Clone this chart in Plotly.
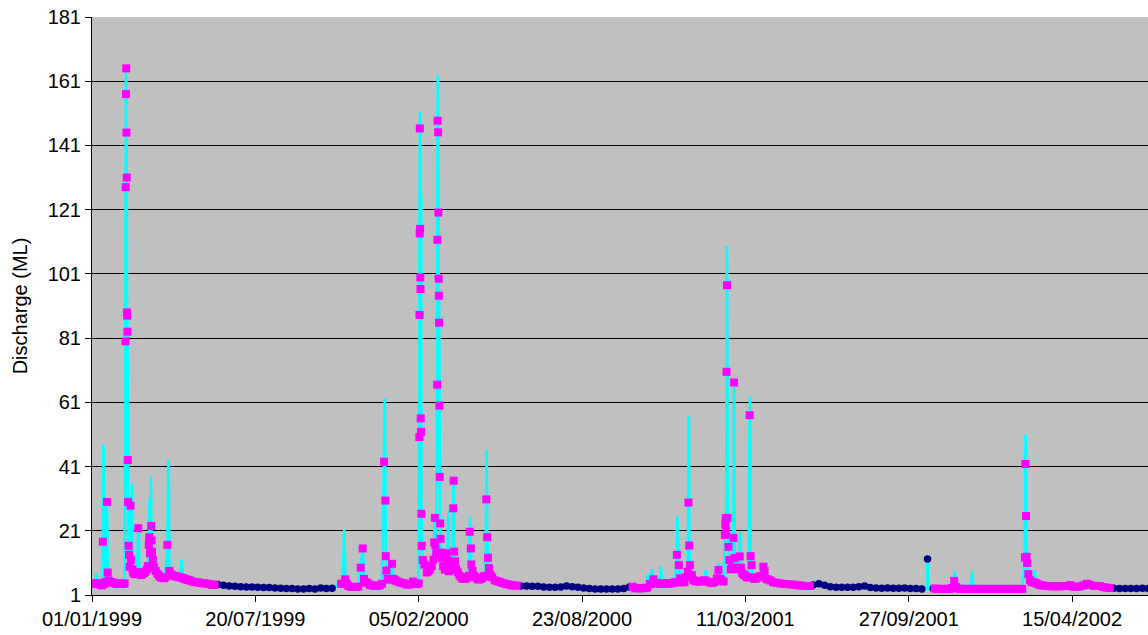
import pandas as pd
import plotly.graph_objects as go

START = pd.Timestamp("1999-01-01")

# ---- data: (days since 01/01/1999, discharge ML) ----
# magenta samples (event periods)
WET_1999 = [(0,4.6),(2,4.5),(4,4.7),(6,4.4),(8,4.6),(10,4.3),(12,4.0),(13.3,17.6),(15,4.5),(16.5,5),(18.3,30),(19.2,8),
    (20.5,5.5),(22,5.0),(24,5.0),(26,4.8),(28,4.7),(30,4.5),(32,4.5),(34,4.7),(36,4.5),(38,4.5),(40,4.6),
    (41.0,80),(41.3,128),(41.6,157),(41.9,165),(42.2,145),(42.5,131),(42.8,89),(43.1,88),(43.4,83),(43.8,43),
    (44.2,30),(44.8,16.3),(45.4,13.5),(46.2,9.8),(47.2,28.8),(47.9,12),(49.6,9),(50.5,8),(52,7.5),(53.5,8),
    (55,7.5),(56.7,21.8),(57.8,8),(59,7.5),(60.5,7.2),(62,8),(63.5,7.8),(65,8.2),(67,8.9),(68.5,10),(69.5,16.6),
    (70,19),(71,14),(72.5,22.5),(73,18),(73.5,14.5),(74.5,12),(76,9.6),(78,8.5),(80,7.6),(82,7),(84,6.5),
    (86,6.3),(88,6.2),(90,6.5),(92.2,16.6),(94.6,8.5),(96,7.5),(98,7.2),(100,7),(102,6.8),(104,6.8),(106,6.6),
    (108,6.5),(110.5,6.3),(112,6.2),(114,6.0),(116,5.8),(118,5.7),(120,5.5),(123,5.2),(126,5.0),(129,5.0),
    (132,4.8),(135,4.7),(138,4.6),(141,4.5),(144,4.4),(147,4.2),(150,4.2)]

WET_2000 = [(305,4.5),(307,4.5),(310,5.9),(312,4.5),(314,3.8),(317,3.5),(320,3.5),(323,3.5),(326,3.6),(329,9.5),
    (331.5,15.5),(333,6),(335,5),(337,4.8),(340,4.2),(343,4.0),(346,3.8),(349,3.8),(352,4.0),(355,4.5),
    (357.6,42.5),(359.2,30.4),(359.8,13.1),(360.5,8.6),(362,6),(364,5.8),(366,6),(367.4,10.7),(369,6),(371,5.6),
    (373,5.3),(376,5),(379,4.8),(382,4.6),(385.4,4.3),(388,4.2),(391,4.5),(393,5.2),(395,4.6),(397.7,4.4),(400,4.6),
    (400.8,50.2),(401.0,88.2),(401.2,113.6),(401.4,146.3),(401.8,115),(402.0,99.9),(402.2,96.3),(402.5,56),
    (402.8,51.8),(403.3,26.3),(403.7,16.3),(405,11.9),(407,10.5),(410,8),(412,8.5),(414,9),(416,10),(418,12),
    (419,17.4),(419.8,25),(420.5,16.5),(421.5,14),
    (422.6,66.5),(422.9,111.6),(423.2,148.7),(423.8,145.1),(424.1,120.1),(424.4,99.5),(424.7,94.2),(425.0,85.8),
    (425.4,60),(425.8,37.8),(426.3,23.3),(426.8,18.5),(427.5,14.2),(428.5,12.6),(430,10),(432,8.9),(433.5,14),
    (435,11.9),(437,8.4),(439,10.5),(441,9),(442.3,28),(442.8,36.6),(443.5,14.5),(444.5,11.5),(446,9),(448,8),
    (450,7),(452,6.5),(454,6),(456,6),(458,6.2),(460,6.5),(461.5,7),(462.5,20.7),(463.8,15.5),(464.5,10.5),
    (466,8.5),(468,7),(470,6.5),(472,6),(474,5.8),(476,6),(478,6.3),(480,6.8),(482,7),(482.8,30.8),(483.8,19),
    (484.8,12.6),(486,9.4),(488,7.2),(490,6.5),(493,5.6),(496,5.3),(499,5.1),(502,4.8),(505,4.6),(508,4.4),
    (511,4.2),(514,4.0),(517,4.0),(520,3.9)]

WET_2001 = [(662,3.6),(665,3.1),(668,3.1),(671,3.1),(674,3.1),(677,3.2),(680,3.3),(683,4.4),(687.4,5.9),(689,4.8),
    (691,4.6),(693,4.6),(695,4.5),(698,4.6),(700,4.7),(703,4.5),(706,4.6),(709,4.6),(712,4.8),(714,5.0),
    (716.1,13.5),(718.5,10.3),(720,6.2),(721.5,4.9),(723,5.2),(725.5,5.0),(727,6.5),(729.5,8.2),(730.3,29.8),
    (731.3,16.4),(732,10.3),(734.4,7.2),(736.5,5.6),(739,5.3),(742,5.2),(744.6,5.2),(747,5.4),(750,5.6),
    (752.5,5.3),(755,5.0),(758.9,4.7),(762,5.0),(765.1,6.2),(767,8.8),(769,6),(771,5.5),(773.2,5.2),
    (775.0,19.7),(775.5,23),(776,24.9),(776.5,21),(777.0,70.5),(777.6,97.5),(778.2,25),(779.3,16),(780.5,11.9),
    (782,9),(784,9.5),(785.5,18.8),(786.2,67.2),(786.8,12.5),(788,9),(790,9.5),(793,13),(794.5,9.5),(796,7.8),
    (798,7.3),(800,7),(802,6.5),(804,6.5),(805.3,57),(806.5,13.1),(807.5,10.3),(809,6.5),(811,6),(813,6.2),
    (816,6.5),(818,6.8),(820,7),(822,9.8),(823.5,8.5),(826,6),(828,5.8),(831,5.5),(834,5.0),(838,4.8),(842,4.6),
    (846,4.5),(850,4.4),(855,4.3),(860,4.2),(865,4.0),(870,3.9),(875,3.8),(879,3.8)]

WET_2002 = [(1032,3.0),(1035,2.9),(1038,2.9),(1041,2.9),(1044,2.9),(1047,2.9),(1050,2.9),(1053,3.2),(1055.7,5.4),
    (1058,3.5),(1061,3.0),(1064,2.9),(1067,2.9),(1070,2.9),(1073,2.9),(1076,2.9),(1079,2.9),(1082,2.9),(1085,2.9),
    (1088,2.9),(1091,2.9),(1094,2.9),(1097,2.9),(1100,2.9),(1103,2.9),(1106,2.9),(1109,2.9),(1112,2.9),(1115,2.9),
    (1118,2.9),(1121,2.9),(1124,2.9),(1127,2.9),(1130,2.9),(1133,2.9),(1136,2.9),(1139,2.9),
    (1142.3,12.7),(1142.8,41.8),(1143.6,25.6),(1144.2,12.9),(1145,11),(1146.5,7.5),(1148.5,5.6),(1150.5,5.0),
    (1152.5,5.0),(1155,4.8),(1157,4.5),(1160,4.2),(1163,4.0),(1166,3.9),(1170,3.8),(1174,3.7),(1178,3.7),
    (1182,3.7),(1186,3.7),(1190,3.8),(1194,3.8),(1198,4.1),(1202,3.6),(1206,3.5),(1210,3.7),(1214,4.0),
    (1218,4.5),(1222,4.2),(1226,3.9),(1230,3.8),(1234,3.8),(1238,3.5),(1242,3.3),(1246,3.2)]

# navy weekly baseflow samples
DRY_1999 = [(154,4.3),(161,4.0),(168,3.8),(175,3.7),(182,3.6),(189,3.5),(196,3.5),(203,3.4),(210,3.3),(217,3.3),
    (224,3.2),(231,3.1),(238,3.0),(245,3.0),(252,2.9),(259,2.9),(266,3.0),(273,2.9),(280,3.2),(287,3.0),(294,3.1)]
DRY_2000 = [(525,3.8),(532,3.8),(539,3.7),(546,3.7),(553,3.5),(560,3.4),(567,3.4),(574,3.5),(581,3.8),(588,3.6),
    (595,3.4),(602,3.2),(609,3.0),(616,2.9),(623,2.9),(630,2.9),(637,2.9),(644,2.9),(651,3.0),(658,3.5)]
DRY_2001 = [(883,4.1),(890,4.5),(897,4.0),(904,3.6),(911,3.4),(918,3.4),(925,3.4),(932,3.4),(939,3.6),(946,3.8),
    (953,3.3),(960,3.2),(967,3.1),(974,3.2),(981,3.1),(988,3.1),(995,3.2),(1002,3.0),(1009,3.0),(1016,2.9),
    (1023,12.2),(1030,3.0)]
DRY_2002 = [(1251,3.1),(1258,3.0),(1265,3.0),(1272,3.0),(1279,3.0),(1286,3.1),(1293,3.0)]

# daily flow peaks not sampled (cyan line only)
DAILY_PEAKS = [(5.5,8),(14.0,47.7),(49.0,35.9),(57.2,23),(70.3,31),(72.0,37.8),(93.8,43),(109.8,12),
    (309,21.2),(358.5,62.3),(401.6,151.5),(403.0,126),(423.5,163),(436.5,27.6),(463,25.5),(483.2,46.4),
    (680.5,7.4),(686,9),(696.5,10),(716.5,25.6),(730.8,56.7),(751.6,8.8),(767.5,10.9),(777.3,109.7),
    (793.6,20.8),(805.9,62.8),(1022.6,3.0),(1023.4,3.0),(1056.2,8.6),(1078,8.6),(1143.2,51),(1154.5,9)]

X_TICK_LABELS = ["01/01/1999", "20/07/1999", "05/02/2000", "23/08/2000", "11/03/2001", "27/09/2001", "15/04/2002"]
Y_TICKS = [1, 21, 41, 61, 81, 101, 121, 141, 161, 181]
X_END_DAYS = 1293


def to_xy(pairs):
    x = [START + pd.Timedelta(days=d) for d, _ in pairs]
    y = [v for _, v in pairs]
    return x, y


wet = WET_1999 + WET_2000 + WET_2001 + WET_2002
dry = DRY_1999 + DRY_2000 + DRY_2001 + DRY_2002
daily = sorted(wet + dry + DAILY_PEAKS, key=lambda p: p[0])

fig = go.Figure()
dx, dy = to_xy(daily)
fig.add_trace(go.Scatter(x=dx, y=dy, mode="lines",
                         line=dict(color="#00FFFF", width=2.8, simplify=False), hoverinfo="skip"))
nx, ny = to_xy(dry)
fig.add_trace(go.Scatter(x=nx, y=ny, mode="markers",
                         marker=dict(symbol="circle", size=7.5, color="#000080", line=dict(width=0))))
wx, wy = to_xy(wet)
fig.add_trace(go.Scatter(x=wx, y=wy, mode="markers",
                         marker=dict(symbol="square", size=8, color="#FF00FF", line=dict(width=0))))

font = dict(family="Liberation Sans, Arial, sans-serif", size=20, color="black")
fig.update_layout(
    width=1148, height=635,
    margin=dict(l=92, r=0, t=17, b=40),
    paper_bgcolor="white", plot_bgcolor="#C0C0C0",
    showlegend=False, font=font,
    xaxis=dict(type="date",
               range=[START, START + pd.Timedelta(days=X_END_DAYS)],
               tickvals=pd.to_datetime(X_TICK_LABELS, format="%d/%m/%Y"),
               ticktext=X_TICK_LABELS,
               ticks="outside", ticklen=6, tickcolor="black", tickwidth=1,
               showline=True, linecolor="black", linewidth=1,
               showgrid=False, zeroline=False, tickfont=font),
    yaxis=dict(range=[1, 181], tickvals=Y_TICKS, ticktext=[str(t) for t in Y_TICKS],
               ticks="outside", ticklen=6, tickcolor="black", tickwidth=1,
               showline=True, linecolor="black", linewidth=1,
               showgrid=True, gridcolor="black", gridwidth=1, zeroline=False,
               tickfont=font,
               title=dict(text="Discharge (ML)", font=font, standoff=14)),
)

fig.write_html("out.html", config={"displayModeBar": False},
               post_script="document.body.style.margin='0px';")
